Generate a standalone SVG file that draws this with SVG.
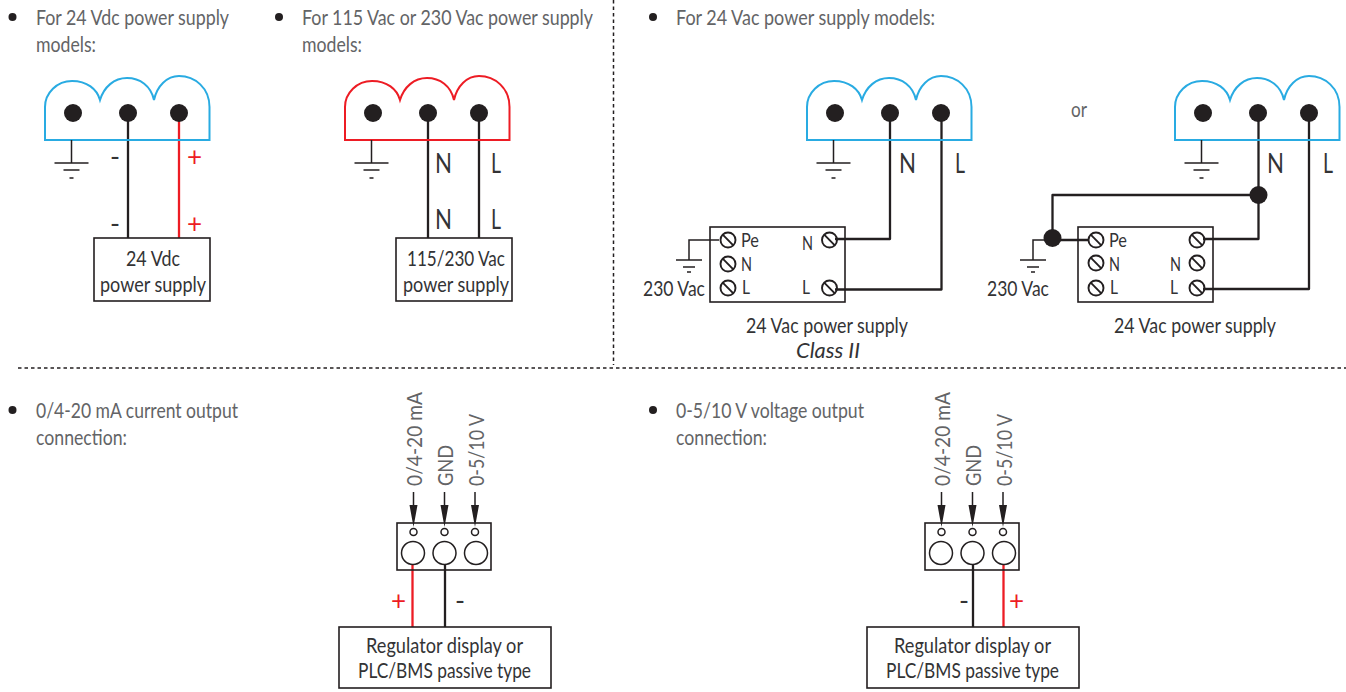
<svg xmlns="http://www.w3.org/2000/svg" width="1346" height="692" viewBox="0 0 1346 692">
<style>
text{font-family:"Lato","Open Sans","Liberation Sans",sans-serif;font-size:21.500px;fill:#333335}
.g{fill:#636466}
.s{font-size:19.500px}
.b{font-size:27px}
.r{fill:#ed1c24;font-size:26px}
.w{fill:none;stroke:#231f20;stroke-width:2.300;stroke-linejoin:round}
.wr{fill:none;stroke:#ed1c24;stroke-width:2.300}
.box{fill:none;stroke:#231f20;stroke-width:1.600}
.t{fill:none;stroke-width:2}
.thin{fill:none;stroke:#231f20;stroke-width:1.500}
.sw{fill:none;stroke:#231f20;stroke-width:1.900}
.d{fill:#231f20;stroke:none}
.dash{fill:none;stroke:#231f20;stroke-width:1.500;stroke-dasharray:3.500 3}
</style>
<defs>
<g id="term">
<path class="t" d="M0 107V140H164.500V107C164.500 88 150 76 134 76C122 76 112 86 109 100C106 86 95 78 82 78C69 78 59 87 55 100C52 89 42 81 27 81C12 81 0 93 0 107Z"/>
<circle class="d" cx="28" cy="113" r="9"/><circle class="d" cx="83" cy="113" r="9"/><circle class="d" cx="134" cy="113" r="9"/>
</g>
<g id="gnd" class="thin"><path d="M0 0V23M-17 23H17M-8 30H8M-2 38H2"/></g>
<g id="gnd2" class="thin"><path d="M-13 0H13M-6 7H6M-2 12H2"/></g>
<g id="sc"><circle class="sw" r="7.500"/><path class="sw" d="M-5.300 -5.300L5.300 5.300"/></g>
</defs>

<g id="dividers">
<path class="dash" d="M613.500 0V365M18 368H1346"/>
</g>

<g id="bullets">
<circle class="d" cx="12.500" cy="17" r="4"/><circle class="d" cx="279" cy="17" r="4"/><circle class="d" cx="653" cy="17" r="4"/><circle class="d" cx="12.500" cy="410" r="4"/><circle class="d" cx="653" cy="410" r="4"/>
<text class="g" x="36" y="24.500" textLength="193" lengthAdjust="spacingAndGlyphs">For 24 Vdc power supply</text>
<text class="g" x="36" y="51.500" textLength="60" lengthAdjust="spacingAndGlyphs">models:</text>
<text class="g" x="302" y="24.500" textLength="291" lengthAdjust="spacingAndGlyphs">For 115 Vac or 230 Vac power supply</text>
<text class="g" x="302" y="51.500" textLength="60" lengthAdjust="spacingAndGlyphs">models:</text>
<text class="g" x="676" y="24.500" textLength="259" lengthAdjust="spacingAndGlyphs">For 24 Vac power supply models:</text>
<text class="g" x="36" y="417.500" textLength="202" lengthAdjust="spacingAndGlyphs">0/4-20 mA current output</text>
<text class="g" x="36" y="444.500" textLength="91" lengthAdjust="spacingAndGlyphs">connection:</text>
<text class="g" x="676" y="417.500" textLength="188" lengthAdjust="spacingAndGlyphs">0-5/10 V voltage output</text>
<text class="g" x="676" y="444.500" textLength="91" lengthAdjust="spacingAndGlyphs">connection:</text>
<text x="1071" y="116.500" textLength="16" lengthAdjust="spacingAndGlyphs" class="g">or</text>
</g>

<g id="connectors">
<path class="w" d="M128 113V238"/><path class="wr" d="M179 113V238"/>
<path class="w" d="M428 113V238M479 113V238"/>
<path class="w" d="M890 113V239H835M941.500 113V289.500H835"/>
<path class="thin" d="M719 240H689V260"/>
<path class="w" d="M1258.500 113V239H1203M1309 113V289H1203M1258.500 195H1052.500V240M1052.500 240H1088"/>
<path class="thin" d="M1052 240H1033V260"/>
<path class="wr" d="M412.500 565V627"/><path class="w" d="M445 565V627"/>
<path class="w" d="M973 565V627"/><path class="wr" d="M1003.500 565V627"/>
<path class="thin" d="M413.500 492V505M444.500 492V505M475 492V505M941.500 492V505M972.500 492V505M1003 492V505"/>
<circle class="d" cx="1258.500" cy="195" r="9"/><circle class="d" cx="1052.500" cy="238" r="9"/>
<path class="d" d="M409.500 505H417.500L413.500 527ZM440.500 505H448.500L444.500 527ZM471 505H479L475 527ZM937.500 505H945.500L941.500 527ZM968.500 505H976.500L972.500 527ZM999 505H1007L1003 527Z"/>
</g>

<g id="terminal-24vdc">
<use href="#term" x="45" stroke="#29abe2"/><use href="#gnd" x="71.500" y="140"/>
<text class="b" x="110" y="166">-</text><text class="r" x="187" y="166">+</text>
<text class="b" x="110" y="233">-</text><text class="r" x="187" y="233">+</text>
</g>
<g id="supply-24vdc">
<rect class="box" x="94" y="238" width="116" height="63"/>
<text x="126" y="265.500" textLength="54" lengthAdjust="spacingAndGlyphs">24 Vdc</text>
<text x="100" y="291.500" textLength="106" lengthAdjust="spacingAndGlyphs">power supply</text>
</g>

<g id="terminal-115-230">
<use href="#term" x="345" stroke="#ed1c24"/><use href="#gnd" x="371.500" y="140"/>
<text class="b" x="435" y="173" textLength="17" lengthAdjust="spacingAndGlyphs">N</text><text class="b" x="491" y="173" textLength="10" lengthAdjust="spacingAndGlyphs">L</text>
<text class="b" x="435" y="229" textLength="17" lengthAdjust="spacingAndGlyphs">N</text><text class="b" x="491" y="229" textLength="10" lengthAdjust="spacingAndGlyphs">L</text>
</g>
<g id="supply-115-230">
<rect class="box" x="396" y="238" width="116" height="63"/>
<text x="407" y="265.500" textLength="98" lengthAdjust="spacingAndGlyphs">115/230 Vac</text>
<text x="403" y="291.500" textLength="106" lengthAdjust="spacingAndGlyphs">power supply</text>
</g>

<g id="terminal-24vac-a">
<use href="#term" x="807" stroke="#29abe2"/><use href="#gnd" x="833.500" y="140"/>
<text class="b" x="899" y="173" textLength="17" lengthAdjust="spacingAndGlyphs">N</text><text class="b" x="955" y="173" textLength="10" lengthAdjust="spacingAndGlyphs">L</text>
</g>
<g id="supply-24vac-a">
<rect class="box" x="710" y="227" width="135" height="75"/>
<use href="#sc" x="728" y="240"/><use href="#sc" x="728" y="264"/><use href="#sc" x="728" y="288"/><use href="#sc" x="829.500" y="240"/><use href="#sc" x="829.500" y="288"/>
<use href="#gnd2" x="689" y="260"/>
<text class="s" x="741" y="247" textLength="18" lengthAdjust="spacingAndGlyphs">Pe</text><text class="s" x="741" y="271" textLength="11" lengthAdjust="spacingAndGlyphs">N</text><text class="s" x="742" y="294" textLength="8" lengthAdjust="spacingAndGlyphs">L</text>
<text class="s" x="802" y="250" textLength="11" lengthAdjust="spacingAndGlyphs">N</text><text class="s" x="802" y="294" textLength="8" lengthAdjust="spacingAndGlyphs">L</text>
<text x="643" y="295.500" textLength="62" lengthAdjust="spacingAndGlyphs">230 Vac</text>
<text x="746" y="332.500" textLength="162" lengthAdjust="spacingAndGlyphs">24 Vac power supply</text>
<text x="796" y="357.500" textLength="64" lengthAdjust="spacingAndGlyphs" font-style="italic">Class II</text>
</g>

<g id="terminal-24vac-b">
<use href="#term" x="1175" stroke="#29abe2"/><use href="#gnd" x="1201.500" y="140"/>
<text class="b" x="1267" y="173" textLength="17" lengthAdjust="spacingAndGlyphs">N</text><text class="b" x="1323" y="173" textLength="10" lengthAdjust="spacingAndGlyphs">L</text>
</g>
<g id="supply-24vac-b">
<rect class="box" x="1078" y="227" width="135" height="75"/>
<use href="#sc" x="1096" y="240"/><use href="#sc" x="1096" y="263"/><use href="#sc" x="1096" y="288"/><use href="#sc" x="1197" y="240"/><use href="#sc" x="1197" y="263"/><use href="#sc" x="1197" y="288"/>
<use href="#gnd2" x="1033" y="260"/>
<text class="s" x="1109" y="247" textLength="18" lengthAdjust="spacingAndGlyphs">Pe</text><text class="s" x="1109" y="271" textLength="11" lengthAdjust="spacingAndGlyphs">N</text><text class="s" x="1110" y="294" textLength="8" lengthAdjust="spacingAndGlyphs">L</text>
<text class="s" x="1170" y="271" textLength="11" lengthAdjust="spacingAndGlyphs">N</text><text class="s" x="1170" y="294" textLength="8" lengthAdjust="spacingAndGlyphs">L</text>
<text x="987" y="295.500" textLength="62" lengthAdjust="spacingAndGlyphs">230 Vac</text>
<text x="1114" y="332.500" textLength="162" lengthAdjust="spacingAndGlyphs">24 Vac power supply</text>
</g>

<g id="output-current">
<rect class="box" x="397" y="523" width="94" height="47"/>
<circle class="thin" cx="413" cy="553" r="11.500"/><circle class="thin" cx="444.500" cy="553" r="11.500"/><circle class="thin" cx="476" cy="553" r="11.500"/>
<circle class="thin" cx="413.500" cy="532" r="3.500"/><circle class="thin" cx="444.500" cy="532" r="3.500"/><circle class="thin" cx="475" cy="532" r="3.500"/>
<text class="g" transform="translate(421.500 486) rotate(-90)" textLength="94" lengthAdjust="spacingAndGlyphs">0/4-20 mA</text>
<text class="g" transform="translate(453 486) rotate(-90)" textLength="41" lengthAdjust="spacingAndGlyphs">GND</text>
<text class="g" transform="translate(484 486) rotate(-90)" textLength="72" lengthAdjust="spacingAndGlyphs">0-5/10 V</text>
<text class="r" x="391" y="610">+</text><text class="b" x="455" y="610">-</text>
</g>
<g id="display-current">
<rect class="box" x="339" y="627" width="212" height="61"/>
<text x="366" y="652.500" textLength="157" lengthAdjust="spacingAndGlyphs">Regulator display or</text>
<text x="358" y="677.500" textLength="173" lengthAdjust="spacingAndGlyphs">PLC/BMS passive type</text>
</g>

<g id="output-voltage">
<rect class="box" x="925" y="523" width="94" height="47"/>
<circle class="thin" cx="941" cy="553" r="11.500"/><circle class="thin" cx="972.500" cy="553" r="11.500"/><circle class="thin" cx="1004" cy="553" r="11.500"/>
<circle class="thin" cx="941.500" cy="532" r="3.500"/><circle class="thin" cx="972.500" cy="532" r="3.500"/><circle class="thin" cx="1003" cy="532" r="3.500"/>
<text class="g" transform="translate(949.500 486) rotate(-90)" textLength="94" lengthAdjust="spacingAndGlyphs">0/4-20 mA</text>
<text class="g" transform="translate(981 486) rotate(-90)" textLength="41" lengthAdjust="spacingAndGlyphs">GND</text>
<text class="g" transform="translate(1012 486) rotate(-90)" textLength="72" lengthAdjust="spacingAndGlyphs">0-5/10 V</text>
<text class="b" x="959" y="610">-</text><text class="r" x="1009" y="610">+</text>
</g>
<g id="display-voltage">
<rect class="box" x="867" y="627" width="212" height="61"/>
<text x="894" y="652.500" textLength="157" lengthAdjust="spacingAndGlyphs">Regulator display or</text>
<text x="886" y="677.500" textLength="173" lengthAdjust="spacingAndGlyphs">PLC/BMS passive type</text>
</g>
</svg>
